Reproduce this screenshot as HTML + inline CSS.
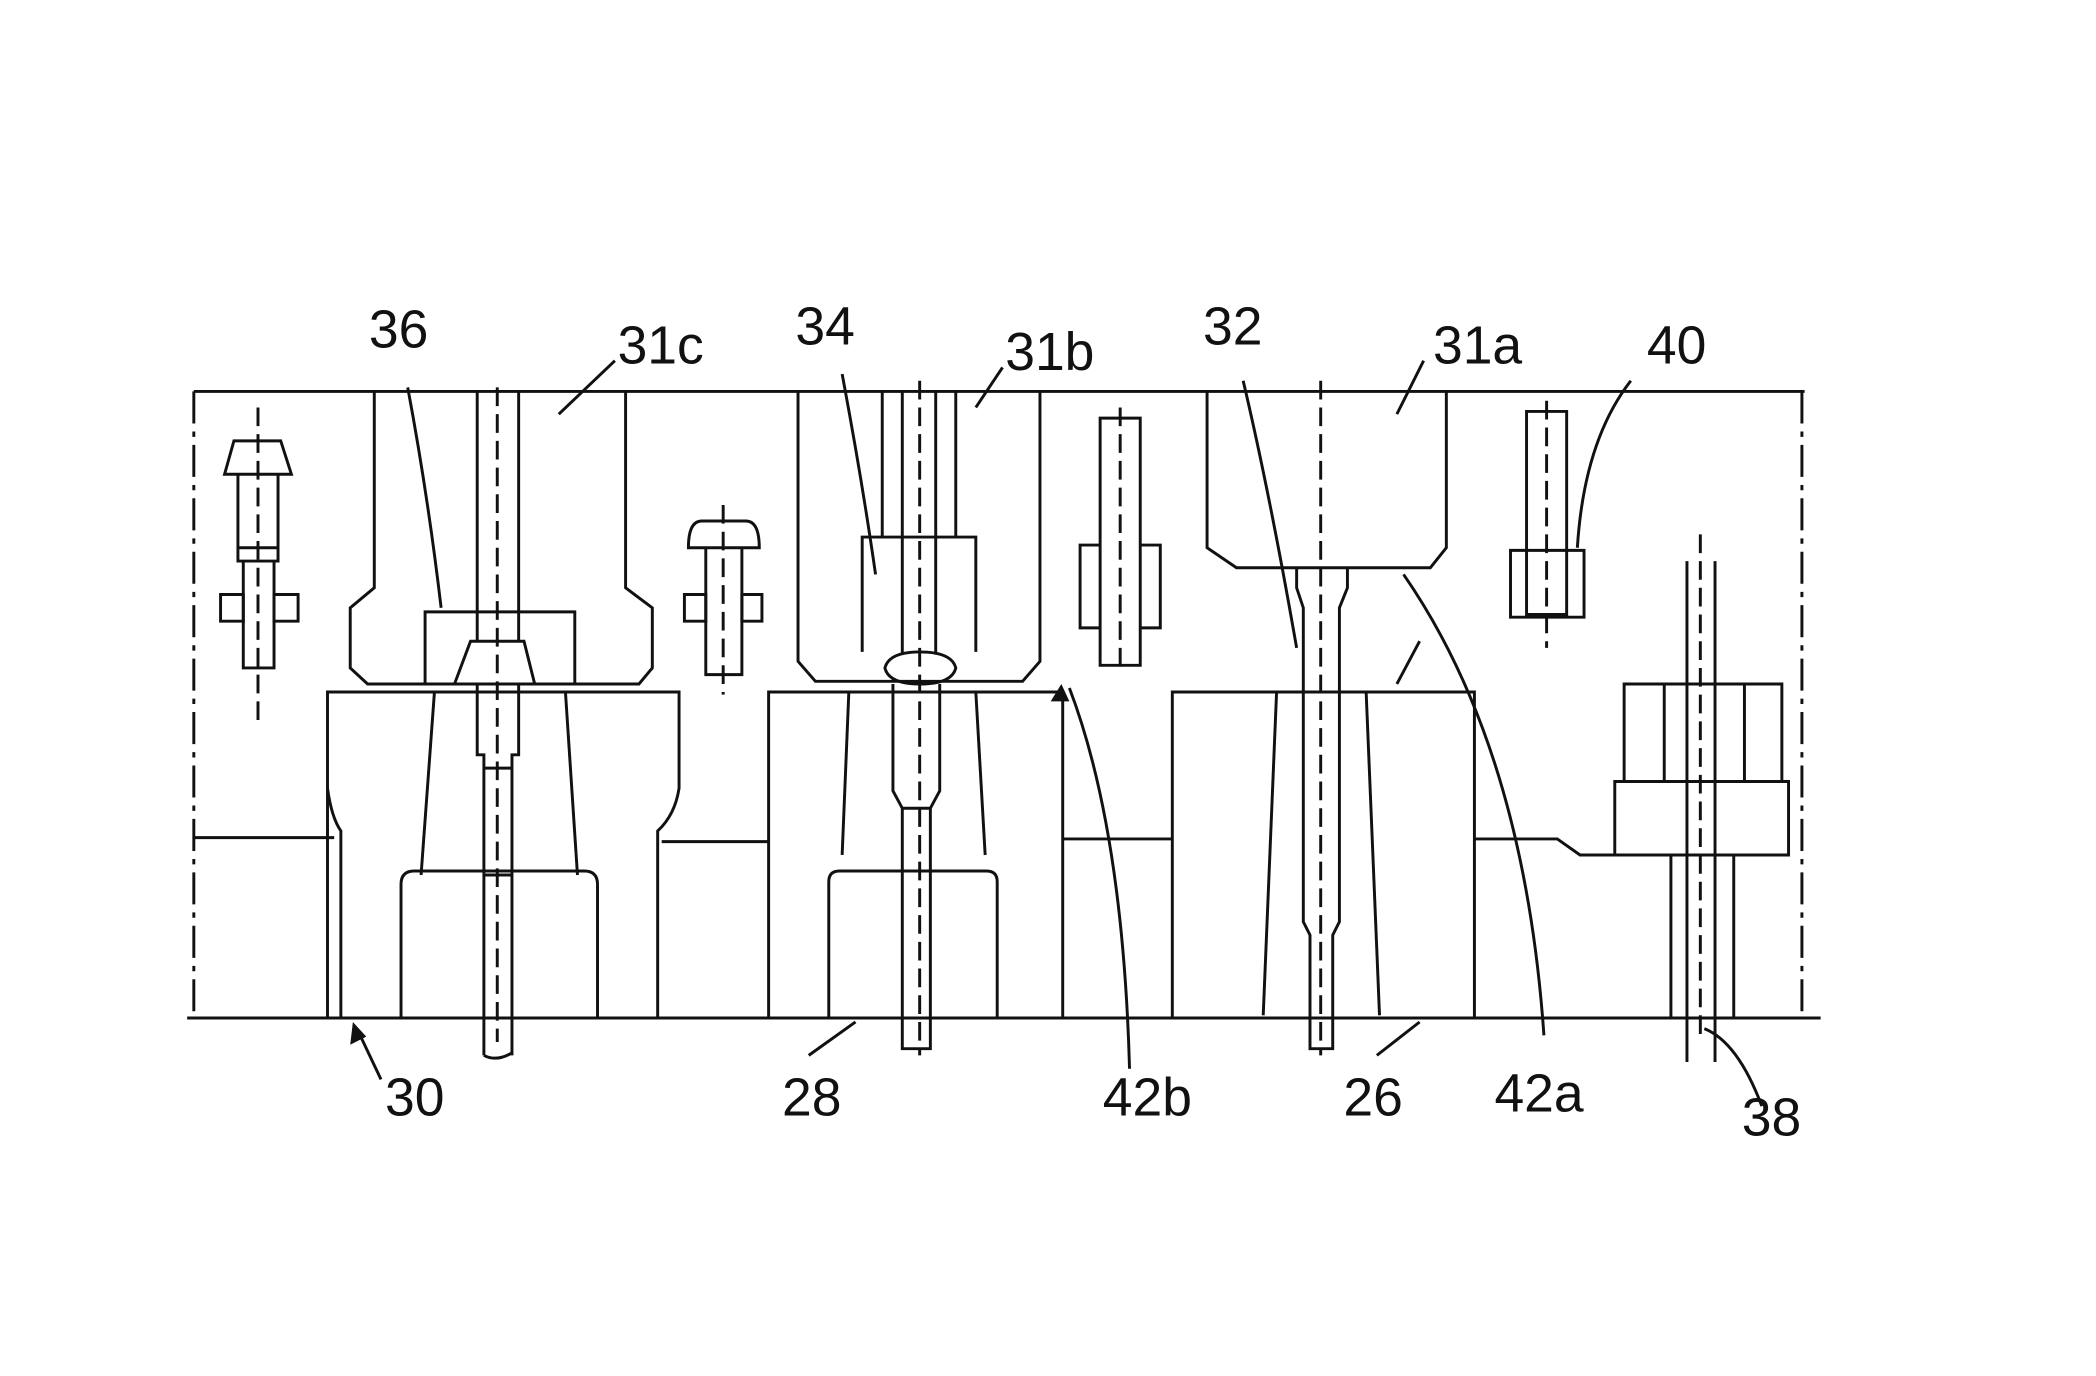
<!DOCTYPE html>
<html><head><meta charset="utf-8"><style>
html,body{margin:0;padding:0;background:#fff}
svg{display:block}
text{font-family:"Liberation Sans",sans-serif;font-size:40px;fill:#111}
</style></head><body>
<svg width="2096" height="1376" viewBox="0 0 1568 1030" preserveAspectRatio="none" xmlns="http://www.w3.org/2000/svg">
<g fill="none" stroke="#111" stroke-width="2.2">
<!-- frame -->
<line x1="145" y1="293" x2="1350" y2="293"/>
<line x1="140" y1="762" x2="1362" y2="762"/>
<line x1="145" y1="293" x2="145" y2="762" stroke-dasharray="24,6,4,6"/>
<line x1="1348" y1="293" x2="1348" y2="762" stroke-dasharray="24,6,4,6"/>

<!-- Station 30 -->
<path d="M245,762 V518 H508 V590 Q505,610 492,622 V762"/>
<path d="M245,590 Q248,612 255,622 V762"/>
<line x1="145" y1="627" x2="250" y2="627"/>
<line x1="325" y1="518" x2="315" y2="655"/>
<line x1="423" y1="518" x2="432" y2="655"/>
<path d="M300,762 V662 Q300,652 310,652 H437 Q447,652 447,662 V762"/>
<path d="M280,293 V440 L262,455 V500 L275,512 H478 L488,500 V455 L468,440 V293"/>
<path d="M318,512 V458 H430 V512"/>
<path d="M340,512 L352,480 H392 L400,512"/>
<path d="M357,293 V480 M388,293 V480"/>
<path d="M357,512 V565 H362 V790 M388,512 V565 H383 V790 M362,565 V575 H383 M362,655 H383"/>
<path d="M362,790 Q372,795 383,788"/>
<line x1="372" y1="290" x2="372" y2="780" stroke-dasharray="14,6"/>

<!-- small parts left -->
<path d="M168,355 L175,330 H210 L218,355 Z M168,355 H218"/>
<path d="M178,355 V420 H208 V355 M182,420 V500 H205 V420 M178,410 H208"/>
<path d="M165,445 H182 V465 H165 Z M205,445 H223 V465 H205 Z"/>
<line x1="193" y1="305" x2="193" y2="540" stroke-dasharray="14,6"/>
<path d="M515,410 Q515,390 525,390 H558 Q568,390 568,410 Z"/>
<path d="M528,410 V505 H555 V410"/>
<path d="M512,445 H528 V465 H512 Z M555,445 H570 V465 H555 Z"/>
<line x1="541" y1="378" x2="541" y2="520" stroke-dasharray="14,6"/>

<!-- Station 28 -->
<path d="M575,762 V518 H795 V762"/>
<line x1="495" y1="630" x2="575" y2="630"/>
<line x1="635" y1="518" x2="630" y2="640"/>
<line x1="730" y1="518" x2="737" y2="640"/>
<path d="M620,762 V660 Q620,652 628,652 H738 Q746,652 746,660 V762"/>
<path d="M597,293 V495 L610,510 H765 L778,495 V293"/>
<path d="M645,488 V402 H730 V488"/>
<path d="M660,293 V402 M675,293 V490 M700,293 V490 M715,293 V402"/>
<path d="M662,500 Q665,488 688,488 Q712,488 715,500 Q712,512 688,512 Q665,512 662,500 Z"/>
<path d="M668,512 V592 L675,605 V785 H696 V605 L703,592 V512 M675,605 H696"/>
<line x1="688" y1="285" x2="688" y2="790" stroke-dasharray="14,6"/>
<path d="M823,313 H853 V498 H823 Z M808,408 H823 V470 H808 Z M853,408 H868 V470 H853 Z"/>
<line x1="838" y1="305" x2="838" y2="500" stroke-dasharray="14,6"/>

<!-- Station 26 -->
<path d="M877,762 V518 H1103 V762"/>
<line x1="795" y1="628" x2="877" y2="628"/>
<line x1="955" y1="518" x2="945" y2="760"/>
<line x1="1022" y1="518" x2="1032" y2="760"/>
<path d="M903,293 V410 L925,425 H1070 L1082,410 V293"/>
<path d="M970,425 V440 L975,455 V690 L980,700 V785 H997 V700 L1002,690 V455 L1008,440 V425"/>
<line x1="988" y1="285" x2="988" y2="790" stroke-dasharray="14,6"/>
<path d="M1142,308 H1172 V460 H1142 Z M1130,412 H1185 V462 H1130 Z"/>
<line x1="1157" y1="300" x2="1157" y2="485" stroke-dasharray="14,6"/>

<!-- Station 38 -->
<path d="M1103,628 H1165 L1182,640 H1208"/>
<path d="M1215,512 H1333 V585 H1215 Z M1208,585 H1338 V640 H1208 Z M1245,512 V585 M1305,512 V585"/>
<path d="M1250,640 V762 M1297,640 V762"/>
<path d="M1262,420 V795 M1283,420 V795"/>
<line x1="1272" y1="400" x2="1272" y2="780" stroke-dasharray="14,6"/>

<!-- leaders -->
<path d="M305,290 Q320,370 330,455"/>
<path d="M460,270 L418,310"/>
<path d="M630,280 Q645,360 655,430"/>
<path d="M750,275 L730,305"/>
<path d="M930,285 Q950,370 970,485"/>
<path d="M1065,270 L1045,310"/>
<path d="M1220,285 Q1185,330 1180,410"/>
<path d="M1155,775 Q1140,560 1050,430"/>
<path d="M1045,512 L1062,480"/>
<path d="M845,800 Q840,620 800,515"/>
<path d="M285,808 L268,772"/>
<path d="M605,790 L640,765"/>
<path d="M1030,790 L1062,765"/>
<path d="M1318,828 Q1300,780 1275,770"/>
</g>
<g fill="#111">
<polygon points="264,765 262,782 274,776"/>
<polygon points="794,512 786,525 800,525"/>
</g>
<text x="276" y="260">36</text>
<text x="462" y="272">31c</text>
<text x="595" y="258">34</text>
<text x="752" y="277">31b</text>
<text x="900" y="258">32</text>
<text x="1072" y="272">31a</text>
<text x="1232" y="272">40</text>
<text x="288" y="835">30</text>
<text x="585" y="835">28</text>
<text x="825" y="835">42b</text>
<text x="1005" y="835">26</text>
<text x="1118" y="832">42a</text>
<text x="1303" y="850">38</text>
</svg>
</body></html>
